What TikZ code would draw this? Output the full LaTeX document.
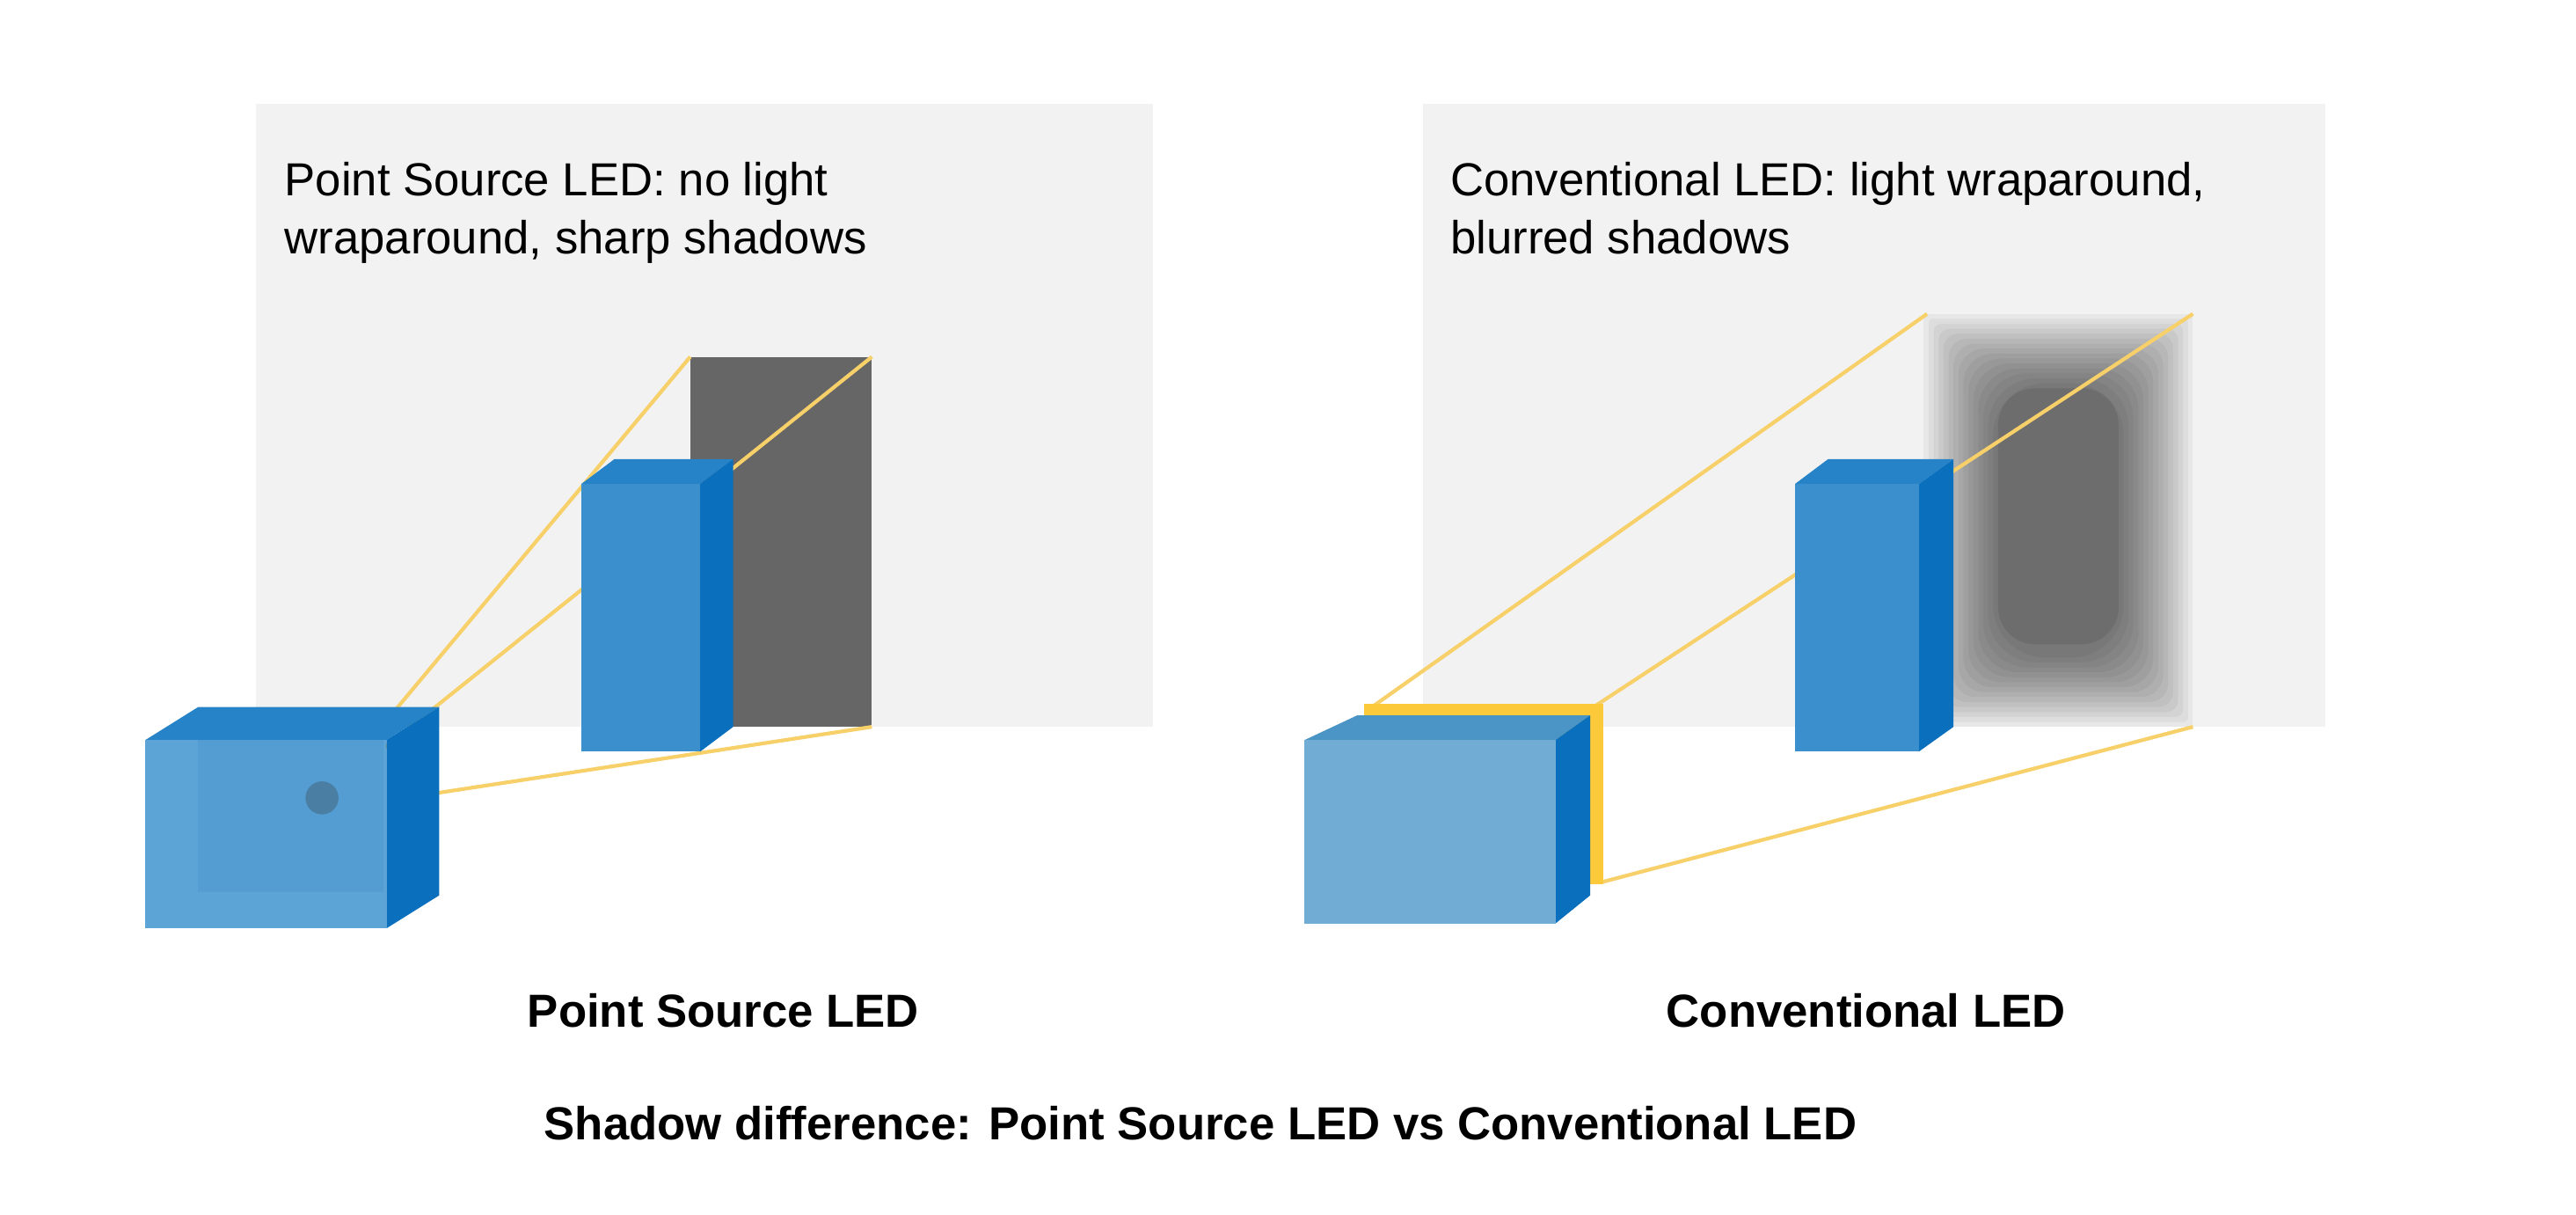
\documentclass[tikz,border=0pt]{standalone}
\usepackage{fontspec}
\setmainfont{Liberation Sans}
\usetikzlibrary{positioning}
\definecolor{wallgray}{HTML}{F2F2F2}
\definecolor{shadowgray}{HTML}{666666}
\definecolor{boxfront}{HTML}{3A8FCC}
\definecolor{boxside}{HTML}{0A70BE}
\definecolor{boxtop}{HTML}{2783C8}
\definecolor{ledfront}{HTML}{5CA3D6}
\definecolor{ledfronttwo}{HTML}{70ACD4}
\definecolor{ledtoptwo}{HTML}{4A94C6}
\definecolor{beam}{HTML}{F7D06A}
\definecolor{glow}{HTML}{FCC93A}
\begin{document}
\begin{tikzpicture}[x=0.018776cm,y=-0.018776cm,
    wall/.style={fill=wallgray},
    beamline/.style={draw=beam, line width=1.2pt},
    note/.style={anchor=north west, align=left, font=\fontsize{15}{18.7}\selectfont, inner sep=0},
    title/.style={font=\fontsize{15}{18}\selectfont\bfseries, inner sep=0}]
\useasboundingbox (0,0) rectangle (1560,735);

% left panel: point source
\fill[wall] (155,63) rectangle (698,440);
\node[note] (ptext) at (172,98) {Point Source LED: no light\\wraparound, sharp shadows};
\fill[shadowgray] (418,216) rectangle (528,440);
\coordinate (lsrc) at (195,483);
\draw[beamline] (lsrc) -- (418,216);
\draw[beamline] (lsrc) -- (528,216);
\draw[beamline] (265,480) -- (528,440);
% tall box
\fill[boxtop] (352,293) -- (372,278) -- (444,278) -- (424,293) -- cycle;
\fill[boxside] (424,293) -- (444,278) -- (444,440) -- (424,455) -- cycle;
\fill[boxfront] (352,293) rectangle (424,455);
% point LED
\fill[boxtop] (88,448) -- (120,428) -- (266,428) -- (234,448) -- cycle;
\fill[boxside] (234,448) -- (266,428) -- (266,542) -- (234,562) -- cycle;
\fill[ledfront] (88,448) rectangle (234,562);
\fill[boxfront, opacity=0.25] (120,448) rectangle (232,540);
\fill[shadowgray!40!boxfront] (lsrc) circle (10);

% right panel: conventional
\fill[wall] (862,63) rectangle (1408,440);
\node[note] (ctext) at (878,98) {Conventional LED: light wraparound,\\blurred shadows};
\foreach \i in {0,...,14}{
  \fill[black, opacity=0.045, rounded corners=\i*1.2] ({1165+\i*3},{190+\i*3}) rectangle ({1328-\i*3},{440-\i*3});
}
\fill[shadowgray, opacity=0.6, rounded corners=12] (1210,235) rectangle (1283,390);
\draw[beamline] (828,430) -- (1167,190);
\draw[beamline] (962,430) -- (1328,190);
\draw[beamline] (970,534) -- (1328,440);
% tall box
\fill[boxtop] (1087,293) -- (1107,278) -- (1183,278) -- (1162,293) -- cycle;
\fill[boxside] (1162,293) -- (1183,278) -- (1183,440) -- (1162,455) -- cycle;
\fill[boxfront] (1087,293) rectangle (1162,455);
% conventional LED
\fill[glow] (826,426) rectangle (971,535);
\fill[ledtoptwo] (790,448) -- (822,433) -- (963,433) -- (942,448) -- cycle;
\fill[boxside] (942,448) -- (963,433) -- (963,542) -- (942,559) -- cycle;
\fill[ledfronttwo] (790,448) rectangle (942,559);

\node[title] (plabel) at (438,612) {Point Source LED};
\node[title] (clabel) at (1130,612) {Conventional LED};
\node[title] (caption) at (727,680) {Shadow difference: Point Source LED vs Conventional LED};
\end{tikzpicture}
\end{document}
